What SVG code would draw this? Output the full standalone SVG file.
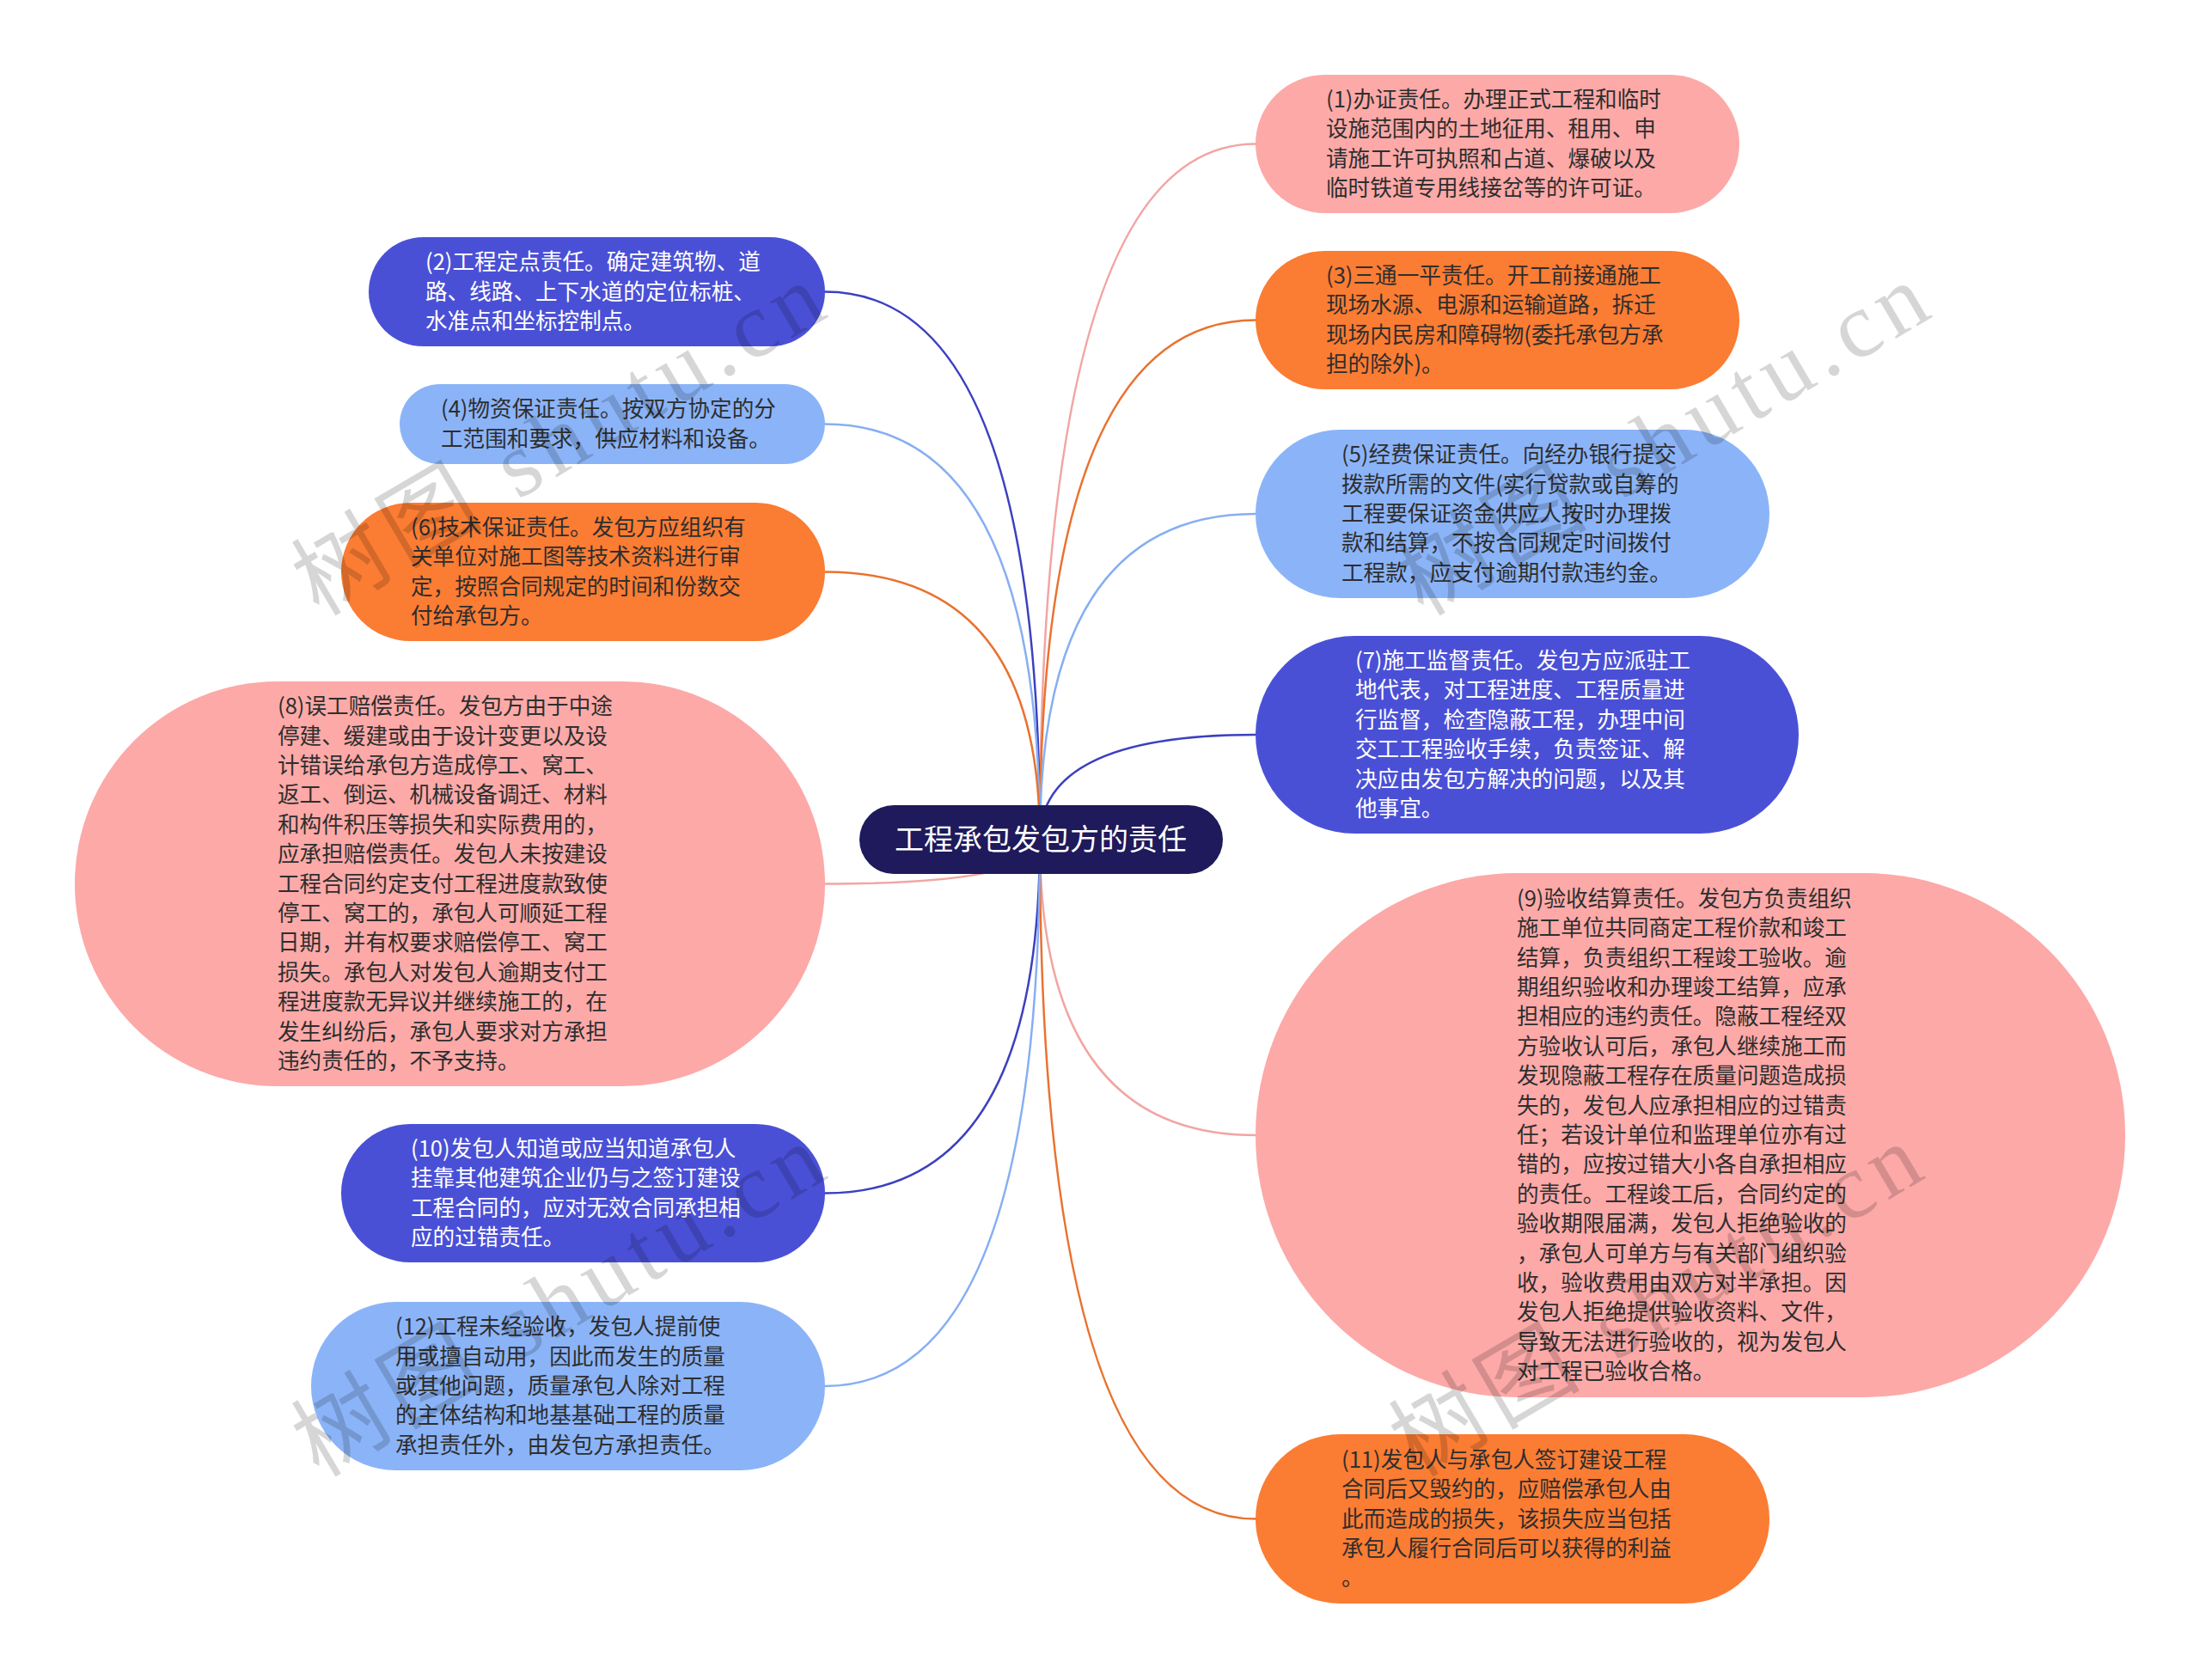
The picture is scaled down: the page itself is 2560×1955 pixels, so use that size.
<svg xmlns="http://www.w3.org/2000/svg" width="2560" height="1955" viewBox="0 0 2560 1955">
<style>
.t{font-family:"Noto Sans CJK SC","Noto Sans",sans-serif;font-size:25.6px}
.dk{fill:#2e2e2e}
.wt{fill:#ffffff}
.pink{fill:#fca9a8}
.orange{fill:#fb7c33}
.dblue{fill:#4a50d6}
.lblue{fill:#8bb4f8}
.c{fill:none;stroke-width:2.5}
.cp{stroke:#f2a5a3}
.co{stroke:#e9722f}
.cd{stroke:#3c40bf}
.cl{stroke:#86aff2}
.wm{font-family:"Liberation Serif","Noto Sans CJK SC",serif;font-size:108px;fill:#000000;fill-opacity:0.16}
</style>
<rect width="2560" height="1955" fill="#ffffff"/>
<g id="connectors">
<path class="c cp" d="M1210,977 Q1210,167.5 1461,167.5"/>
<path class="c cd" d="M1210,977 Q1210,339.5 960,339.5"/>
<path class="c co" d="M1210,977 Q1210,372.5 1461,372.5"/>
<path class="c cl" d="M1210,977 Q1210,493.5 960,493.5"/>
<path class="c cl" d="M1210,977 Q1210,598 1461,598"/>
<path class="c co" d="M1210,977 Q1210,665.5 960,665.5"/>
<path class="c cd" d="M1210,977 Q1210,855 1461,855"/>
<path class="c cp" d="M1210,977 Q1210,1028.5 960,1028.5"/>
<path class="c cp" d="M1210,977 Q1210,1321 1461,1321"/>
<path class="c cd" d="M1210,977 Q1210,1388.5 960,1388.5"/>
<path class="c co" d="M1210,977 Q1210,1767.5 1461,1767.5"/>
<path class="c cl" d="M1210,977 Q1210,1613 960,1613"/>
</g>
<g id="root">
<rect x="1000" y="937" width="423" height="80" rx="40" fill="#1e1a5c"/>
<text x="1211" y="989" text-anchor="middle" font-family="Noto Sans CJK SC, sans-serif" font-size="34" fill="#ffffff">工程承包发包方的责任</text>
</g>
<g id="n1">
<rect class="pink" x="1461" y="87" width="563" height="161" rx="80.5"/>
<text class="t dk"><tspan x="1543" y="125">(1)办证责任。办理正式工程和临时</tspan><tspan x="1543" dy="34.4">设施范围内的土地征用、租用、申</tspan><tspan x="1543" dy="34.4">请施工许可执照和占道、爆破以及</tspan><tspan x="1543" dy="34.4">临时铁道专用线接岔等的许可证。</tspan></text>
</g>
<g id="n2">
<rect class="dblue" x="429" y="276" width="531" height="127" rx="63.5"/>
<text class="t wt"><tspan x="495" y="314.1">(2)工程定点责任。确定建筑物、道</tspan><tspan x="495" dy="34.4">路、线路、上下水道的定位标桩、</tspan><tspan x="495" dy="34.4">水准点和坐标控制点。</tspan></text>
</g>
<g id="n3">
<rect class="orange" x="1461" y="292" width="563" height="161" rx="80.5"/>
<text class="t dk"><tspan x="1543" y="329.9">(3)三通一平责任。开工前接通施工</tspan><tspan x="1543" dy="34.4">现场水源、电源和运输道路，拆迁</tspan><tspan x="1543" dy="34.4">现场内民房和障碍物(委托承包方承</tspan><tspan x="1543" dy="34.4">担的除外)。</tspan></text>
</g>
<g id="n4">
<rect class="lblue" x="465" y="447" width="495" height="93" rx="46.5"/>
<text class="t dk"><tspan x="513" y="485.3">(4)物资保证责任。按双方协定的分</tspan><tspan x="513" dy="34.4">工范围和要求，供应材料和设备。</tspan></text>
</g>
<g id="n5">
<rect class="lblue" x="1461" y="500" width="598" height="196" rx="98"/>
<text class="t dk"><tspan x="1561" y="538.2">(5)经费保证责任。向经办银行提交</tspan><tspan x="1561" dy="34.4">拨款所需的文件(实行贷款或自筹的</tspan><tspan x="1561" dy="34.4">工程要保证资金供应人按时办理拨</tspan><tspan x="1561" dy="34.4">款和结算，不按合同规定时间拨付</tspan><tspan x="1561" dy="34.4">工程款，应支付逾期付款违约金。</tspan></text>
</g>
<g id="n6">
<rect class="orange" x="397" y="585" width="563" height="161" rx="80.5"/>
<text class="t dk"><tspan x="478" y="622.9">(6)技术保证责任。发包方应组织有</tspan><tspan x="478" dy="34.4">关单位对施工图等技术资料进行审</tspan><tspan x="478" dy="34.4">定，按照合同规定的时间和份数交</tspan><tspan x="478" dy="34.4">付给承包方。</tspan></text>
</g>
<g id="n7">
<rect class="dblue" x="1461" y="740" width="632" height="230" rx="115"/>
<text class="t wt"><tspan x="1577" y="778">(7)施工监督责任。发包方应派驻工</tspan><tspan x="1577" dy="34.4">地代表，对工程进度、工程质量进</tspan><tspan x="1577" dy="34.4">行监督，检查隐蔽工程，办理中间</tspan><tspan x="1577" dy="34.4">交工工程验收手续，负责签证、解</tspan><tspan x="1577" dy="34.4">决应由发包方解决的问题，以及其</tspan><tspan x="1577" dy="34.4">他事宜。</tspan></text>
</g>
<g id="n8">
<rect class="pink" x="87" y="793" width="873" height="471" rx="235.5"/>
<text class="t dk"><tspan x="323" y="831.1">(8)误工赔偿责任。发包方由于中途</tspan><tspan x="323" dy="34.4">停建、缓建或由于设计变更以及设</tspan><tspan x="323" dy="34.4">计错误给承包方造成停工、窝工、</tspan><tspan x="323" dy="34.4">返工、倒运、机械设备调迁、材料</tspan><tspan x="323" dy="34.4">和构件积压等损失和实际费用的，</tspan><tspan x="323" dy="34.4">应承担赔偿责任。发包人未按建设</tspan><tspan x="323" dy="34.4">工程合同约定支付工程进度款致使</tspan><tspan x="323" dy="34.4">停工、窝工的，承包人可顺延工程</tspan><tspan x="323" dy="34.4">日期，并有权要求赔偿停工、窝工</tspan><tspan x="323" dy="34.4">损失。承包人对发包人逾期支付工</tspan><tspan x="323" dy="34.4">程进度款无异议并继续施工的，在</tspan><tspan x="323" dy="34.4">发生纠纷后，承包人要求对方承担</tspan><tspan x="323" dy="34.4">违约责任的，不予支持。</tspan></text>
</g>
<g id="n9">
<rect class="pink" x="1461" y="1016" width="1012" height="610" rx="305"/>
<text class="t dk"><tspan x="1765" y="1054.8">(9)验收结算责任。发包方负责组织</tspan><tspan x="1765" dy="34.4">施工单位共同商定工程价款和竣工</tspan><tspan x="1765" dy="34.4">结算，负责组织工程竣工验收。逾</tspan><tspan x="1765" dy="34.4">期组织验收和办理竣工结算，应承</tspan><tspan x="1765" dy="34.4">担相应的违约责任。隐蔽工程经双</tspan><tspan x="1765" dy="34.4">方验收认可后，承包人继续施工而</tspan><tspan x="1765" dy="34.4">发现隐蔽工程存在质量问题造成损</tspan><tspan x="1765" dy="34.4">失的，发包人应承担相应的过错责</tspan><tspan x="1765" dy="34.4">任；若设计单位和监理单位亦有过</tspan><tspan x="1765" dy="34.4">错的，应按过错大小各自承担相应</tspan><tspan x="1765" dy="34.4">的责任。工程竣工后，合同约定的</tspan><tspan x="1765" dy="34.4">验收期限届满，发包人拒绝验收的</tspan><tspan x="1765" dy="34.4">，承包人可单方与有关部门组织验</tspan><tspan x="1765" dy="34.4">收，验收费用由双方对半承担。因</tspan><tspan x="1765" dy="34.4">发包人拒绝提供验收资料、文件，</tspan><tspan x="1765" dy="34.4">导致无法进行验收的，视为发包人</tspan><tspan x="1765" dy="34.4">对工程已验收合格。</tspan></text>
</g>
<g id="n10">
<rect class="dblue" x="397" y="1308" width="563" height="161" rx="80.5"/>
<text class="t wt"><tspan x="478" y="1345.9">(10)发包人知道或应当知道承包人</tspan><tspan x="478" dy="34.4">挂靠其他建筑企业仍与之签订建设</tspan><tspan x="478" dy="34.4">工程合同的，应对无效合同承担相</tspan><tspan x="478" dy="34.4">应的过错责任。</tspan></text>
</g>
<g id="n11">
<rect class="orange" x="1461" y="1669" width="598" height="197" rx="98.5"/>
<text class="t dk"><tspan x="1561" y="1707.7">(11)发包人与承包人签订建设工程</tspan><tspan x="1561" dy="34.4">合同后又毁约的，应赔偿承包人由</tspan><tspan x="1561" dy="34.4">此而造成的损失，该损失应当包括</tspan><tspan x="1561" dy="34.4">承包人履行合同后可以获得的利益</tspan><tspan x="1561" dy="34.4">。</tspan></text>
</g>
<g id="n12">
<rect class="lblue" x="362" y="1515" width="598" height="196" rx="98"/>
<text class="t dk"><tspan x="460" y="1553.2">(12)工程未经验收，发包人提前使</tspan><tspan x="460" dy="34.4">用或擅自动用，因此而发生的质量</tspan><tspan x="460" dy="34.4">或其他问题，质量承包人除对工程</tspan><tspan x="460" dy="34.4">的主体结构和地基基础工程的质量</tspan><tspan x="460" dy="34.4">承担责任外，由发包方承担责任。</tspan></text>
</g>
<g id="watermarks">
<text class="wm" transform="translate(650,512) rotate(-30.5)" x="-345" y="36" textLength="690" lengthAdjust="spacing">树图 shutu.cn</text>
<text class="wm" transform="translate(1935,512) rotate(-30.5)" x="-345" y="36" textLength="690" lengthAdjust="spacing">树图 shutu.cn</text>
<text class="wm" transform="translate(650,1514) rotate(-30.5)" x="-345" y="36" textLength="690" lengthAdjust="spacing">树图 shutu.cn</text>
<text class="wm" transform="translate(1927,1514) rotate(-30.5)" x="-345" y="36" textLength="690" lengthAdjust="spacing">树图 shutu.cn</text>
</g>
</svg>
